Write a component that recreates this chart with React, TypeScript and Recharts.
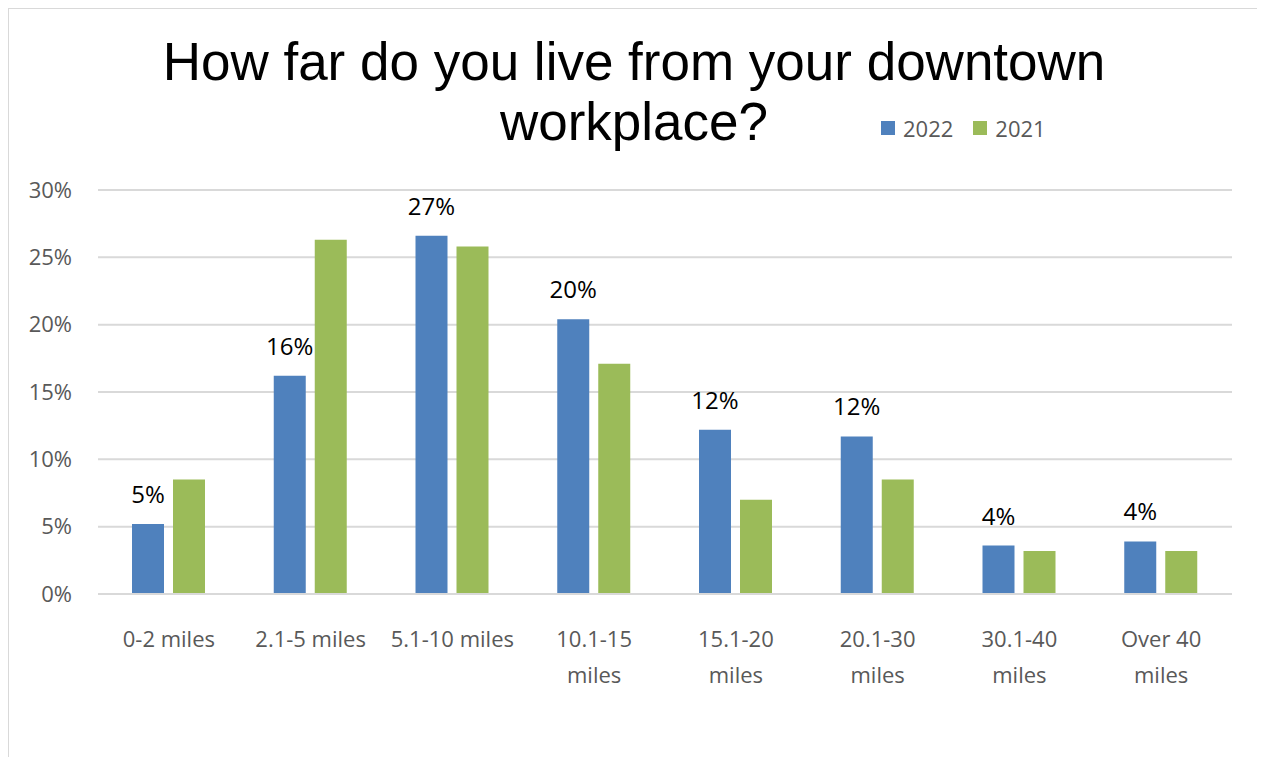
import React from 'react';
import { BarChart, Bar, XAxis, YAxis, CartesianGrid, Legend, LabelList } from 'recharts';

const CATEGORIES = ['0-2 miles', '2.1-5 miles', '5.1-10 miles', '10.1-15 miles', '15.1-20 miles', '20.1-30 miles', '30.1-40 miles', 'Over 40 miles'];
const SERIES_2022 = [5.2, 16.2, 26.6, 20.4, 12.2, 11.7, 3.6, 3.9];
const SERIES_2021 = [8.5, 26.3, 25.8, 17.1, 7.0, 8.5, 3.2, 3.2];
const Y_TICKS = [0, 5, 10, 15, 20, 25, 30];
const LEGEND_ORDER = ['2022', '2021'];

const COLORS = { y2022: '#4f81bd', y2021: '#9bbb59' };
const FONT = '"Open Sans", sans-serif';
const GRAY = '#595959';

const data = CATEGORIES.map((name, i) => ({ name, y2022: SERIES_2022[i], y2021: SERIES_2021[i] }));

const CategoryTick = (props: any) => {
    const { x, y, payload } = props;
    const label: string = payload.value;
    let lines = [label];
    if (label.length > 12) {
        const cut = label.lastIndexOf(' ');
        lines = [label.slice(0, cut), label.slice(cut + 1)];
    }
    return (
        <text x={x} y={y} fill={GRAY} fontSize={22} fontFamily={FONT} textAnchor="middle">
            {lines.map((l, i) => (
                <tspan key={i} x={x} dy={i === 0 ? 53 : 36}>{l}</tspan>
            ))}
        </text>
    );
};

const LegendContent = (props: any) => {
    const items = [...(props.payload || [])].sort(
        (a: any, b: any) => LEGEND_ORDER.indexOf(a.value) - LEGEND_ORDER.indexOf(b.value)
    );
    return (
        <div style={{ display: 'flex', alignItems: 'center', height: 24, fontFamily: FONT, fontSize: 22, color: GRAY }}>
            {items.map((p: any) => (
                <div key={p.value} style={{ display: 'flex', alignItems: 'center', marginRight: 20 }}>
                    <span style={{ display: 'inline-block', width: 14, height: 14, background: p.color, marginRight: 8 }} />
                    <span>{p.value}</span>
                </div>
            ))}
        </div>
    );
};

export default function App() {
    return (
        <div style={{ width: 1252, height: 760, border: '1px solid #d9d9d9', boxSizing: 'border-box', position: 'relative', background: '#fff' }}>
            <div style={{
                position: 'absolute', top: 23, left: 0, width: 1250, textAlign: 'center',
                fontFamily: '"Liberation Sans", Arial, sans-serif', fontSize: 53, lineHeight: '60px', color: '#000',
            }}>
                How far do you live from your downtown<br />workplace?
            </div>
            <BarChart
                width={1250}
                height={740}
                data={data}
                margin={{ top: 181, right: 27, left: 0, bottom: 31 }}
                barSize={32}
                barGap={9}
            >
                <CartesianGrid vertical={false} stroke="#d9d9d9" strokeWidth={2} />
                <XAxis
                    dataKey="name"
                    height={100}
                    tickLine={false}
                    tickSize={0}
                    tickMargin={0}
                    axisLine={{ stroke: '#d9d9d9', strokeWidth: 2 }}
                    tick={<CategoryTick />}
                    interval={0}
                />
                <YAxis
                    width={89}
                    domain={[0, 30]}
                    ticks={Y_TICKS}
                    tickFormatter={(v: number) => `${v}%`}
                    axisLine={false}
                    tickLine={false}
                    tickSize={0}
                    tickMargin={26}
                    tick={{ fill: GRAY, fontSize: 22, fontFamily: FONT }}
                />
                <Legend
                    content={<LegendContent />}
                    wrapperStyle={{ position: 'absolute', left: 872, top: 107, width: 'auto' }}
                />
                <Bar dataKey="y2022" name="2022" fill={COLORS.y2022} isAnimationActive={false}>
                    <LabelList
                        dataKey="y2022"
                        position="top"
                        offset={21}
                        formatter={(v: any) => `${Math.round(Number(v))}%`}
                        style={{ fill: '#000', fontSize: 24, fontFamily: FONT }}
                    />
                </Bar>
                <Bar dataKey="y2021" name="2021" fill={COLORS.y2021} isAnimationActive={false} />
            </BarChart>
        </div>
    );
}
